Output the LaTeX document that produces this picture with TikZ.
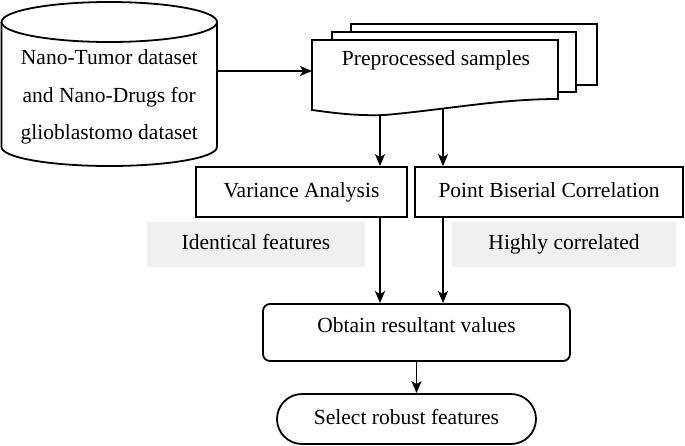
\documentclass[tikz,border=0pt]{standalone}
\usepackage{fontspec}
\setmainfont{Liberation Serif}
\usetikzlibrary{arrows.meta}
\begin{document}
\begin{tikzpicture}[x=1pt,y=-1pt,
  line width=1.8pt,
  txt/.style={font=\fontsize{21.5}{37.5}\selectfont},
  arr/.style={line width=1.9pt,-{Stealth[length=12pt,width=10pt,inset=3pt]}},
  stepbox/.style={draw,txt,inner sep=0pt,text height=15pt,text depth=5pt},
  graybox/.style={fill=black!6,draw=none,txt,inner sep=0pt,text height=15pt,text depth=5pt}]
\useasboundingbox (0,0) rectangle (685,445);
% cylinder
\draw[fill=white] (1.5,22) -- (1.5,147) arc (180:360:107.75pt and 19pt) -- (217,22);
\draw (109.25,22) ellipse [x radius=107.75pt, y radius=20pt];
\node[txt,align=center] (data) at (109.25,97) {Nano-Tumor dataset\\and Nano-Drugs for\\glioblastomo dataset};
\coordinate (cylR) at (217,71);
% document stack
\draw[fill=white] (351,24) rectangle (597,85);
\draw[fill=white] (332,32) rectangle (576,92);
\draw[fill=white] (312,40) -- (558,40) -- (558,99)
  .. controls (500,99) and (450,109) .. (385,115)
  .. controls (355,116) and (335,113) .. (312,110) -- cycle;
\node[txt,text height=15pt,text depth=5pt] (pre) at (436,60) {Preprocessed samples};
\coordinate (docL) at (312,71);
\coordinate (d1) at (380,115);
\coordinate (d2) at (443,108);
% boxes
\node[stepbox,minimum width=211pt,minimum height=50pt] (var) at (301.5,192) {Variance Analysis};
\node[stepbox,minimum width=268pt,minimum height=50pt] (pbc) at (549,192) {Point Biserial Correlation};
\node[graybox,minimum width=218pt,minimum height=45pt] (ide) at (256,244.5) {Identical features};
\node[graybox,minimum width=224pt,minimum height=45pt] (hig) at (564,244.5) {Highly correlated};
\node[stepbox,rounded corners=7pt,minimum width=307pt,minimum height=57pt,text height=15pt,text depth=15pt] (obt) at (416.5,332.5) {Obtain resultant values};
\node[stepbox,rounded corners=25pt,minimum width=259pt,minimum height=50pt] (sel) at (406.5,419) {Select robust features};
% connectors
\draw[arr] (cylR) -- (docL);
\draw[arr] (d1) -- (d1 |- var.north);
\draw[arr] (d2) -- (d2 |- pbc.north);
\draw[arr] (d1 |- var.south) -- (d1 |- obt.north);
\draw[arr] (d2 |- pbc.south) -- (d2 |- obt.north);
\draw[arr] (obt.south) -- (obt.south |- sel.north);
\end{tikzpicture}
\end{document}
